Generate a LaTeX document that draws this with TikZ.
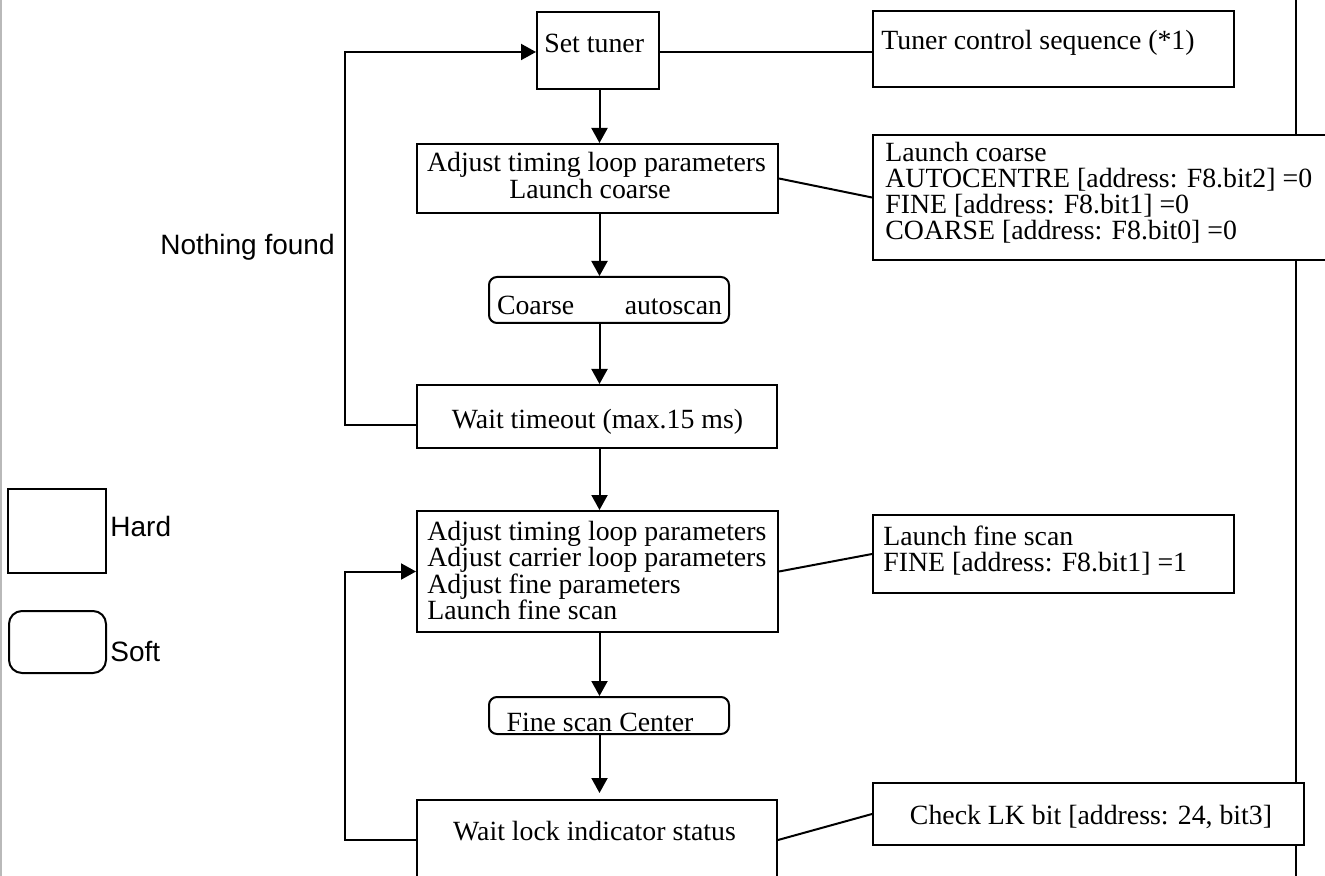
\documentclass[tikz,border=0pt]{standalone}
\usepackage{fontspec}
\setmainfont{Liberation Serif}
\newfontfamily\legendfont{Liberation Sans}
\usetikzlibrary{arrows.meta}

\begin{document}
\begin{tikzpicture}[x=0.5pt, y=-0.5pt,
  box/.style={draw, line width=1pt, fill=white, inner sep=0pt},
  softbox/.style={box, rounded corners=4pt},
  txt/.style={inner sep=0pt, font=\fontsize{13.9pt}{13.5pt}\selectfont},
  sans/.style={inner sep=0pt, font=\legendfont\fontsize{14pt}{13.5pt}\selectfont},
  link/.style={line width=1pt},
  flow/.style={line width=1pt, -{Triangle[length=7.5pt,width=8pt]}},
]
\useasboundingbox (0,0) rectangle (1325,876);
\clip (0,0) rectangle (1325,876);

% page rules
\draw[gray!55, line width=1pt] (1,0) -- (1,876);
\draw[line width=1pt] (1296,0) -- (1296,876);

% boxes
\node[box, minimum width=61pt, minimum height=38.5pt] (settuner) at (598,50.5) {};
\node[box, minimum width=180.5pt, minimum height=38pt] (tunerseq) at (1053.5,49) {};
\node[box, minimum width=180.5pt, minimum height=34.5pt] (adjcoarse) at (597.5,178.5) {};
\node[box, minimum width=240pt, minimum height=62.5pt] (coarseinfo) at (1113,197.5) {};
\node[softbox, minimum width=120pt, minimum height=23pt] (coarsescan) at (609,300) {};
\node[box, minimum width=180pt, minimum height=31.5pt] (waittime) at (597,416.5) {};
\node[box, minimum width=180.5pt, minimum height=60.5pt] (adjfine) at (597.5,571.5) {};
\node[box, minimum width=180.5pt, minimum height=39pt] (fineinfo) at (1053.5,554) {};
\node[softbox, minimum width=120pt, minimum height=18.5pt] (finescan) at (609,715.5) {};
\node[box, minimum width=180pt, minimum height=40pt] (waitlock) at (597,840) {};
\node[box, minimum width=215.5pt, minimum height=31pt] (checklk) at (1088.5,814) {};

% legend
\node[box, minimum width=49pt, minimum height=42pt] (hard) at (57,531) {};
\node[box, rounded corners=6.5pt, minimum width=48.5pt, minimum height=31pt] (soft) at (57.5,642) {};
\node[sans, anchor=base west] (hard-t) at (110,536.7) {Hard};
\node[sans, anchor=base west] (soft-t) at (110,661.5) {Soft};

% box texts
\node[txt, anchor=base west] (settuner-t) at (544,53) {Set tuner};
\node[txt, anchor=base west] (tunerseq-t) at (881,50) {Tuner control sequence (*1)};
\node[txt, anchor=base] (adjcoarse-t1) at (596.5,171.7) {Adjust timing loop parameters};
\node[txt, anchor=base] (adjcoarse-t2) at (590,198.3) {Launch coarse};
\node[txt, anchor=base west] (coarseinfo-t1) at (885,161.5) {Launch coarse};
\node[txt, anchor=base west] (coarseinfo-t2) at (885,187.5) {AUTOCENTRE [address: F8.bit2] =0};
\node[txt, anchor=base west] (coarseinfo-t3) at (885,213.5) {FINE [address: F8.bit1] =0};
\node[txt, anchor=base west] (coarseinfo-t4) at (885,239.5) {COARSE [address: F8.bit0] =0};
\node[txt, anchor=base] (coarsescan-t) at (609.5,315) {\makebox[112.5pt]{Coarse\hfill autoscan}};
\node[txt, anchor=base] (waittime-t) at (597.5,428.3) {Wait timeout (max.15 ms)};
\node[txt, anchor=base west] (adjfine-t1) at (427,540) {Adjust timing loop parameters};
\node[txt, anchor=base west] (adjfine-t2) at (427,566.5) {Adjust carrier loop parameters};
\node[txt, anchor=base west] (adjfine-t3) at (427,593) {Adjust fine parameters};
\node[txt, anchor=base west] (adjfine-t4) at (427,619.5) {Launch fine scan};
\node[txt, anchor=base west] (fineinfo-t1) at (883,545) {Launch fine scan};
\node[txt, anchor=base west] (fineinfo-t2) at (883,571.5) {FINE [address: F8.bit1] =1};
\node[txt, anchor=base] (finescan-t) at (600,731.5) {Fine scan Center};
\node[txt, anchor=base] (waitlock-t) at (594.5,840) {Wait lock indicator status};
\node[txt, anchor=base] (checklk-t) at (1091,824) {Check LK bit [address: 24, bit3]};
\node[sans, anchor=base] (nothing) at (247.5,255) {Nothing found};

% routing helpers
\coordinate (spine) at (599.5,0);
\coordinate (tunerrow) at (0,52);
\coordinate (loopx) at (345,0);
\coordinate (looprow) at (0,425);

% main flow
\draw[flow] (settuner.south -| spine) -- (adjcoarse.north -| spine);
\draw[flow] (adjcoarse.south -| spine) -- (coarsescan.north -| spine);
\draw[flow] (coarsescan.south -| spine) -- (waittime.north -| spine);
\draw[flow] (waittime.south -| spine) -- (adjfine.north -| spine);
\draw[flow] (adjfine.south -| spine) -- (finescan.north -| spine);
\draw[flow, shorten >=3pt] (finescan.south -| spine) -- (waitlock.north -| spine);

% retry loops
\draw[flow] (waittime.west |- looprow) -| (loopx |- tunerrow) -- (settuner.west |- tunerrow);
\draw[flow] (waitlock.west) -| (loopx |- adjfine.west) -- (adjfine.west);

% register notes
\draw[link] (settuner.east |- tunerrow) -- (tunerseq.west |- tunerrow);
\draw[link] (adjcoarse.east) -- (coarseinfo.west);
\draw[link] (adjfine.east) -- (fineinfo.west);
\draw[link] (waitlock.east) -- (checklk.west);
\end{tikzpicture}
\end{document}
